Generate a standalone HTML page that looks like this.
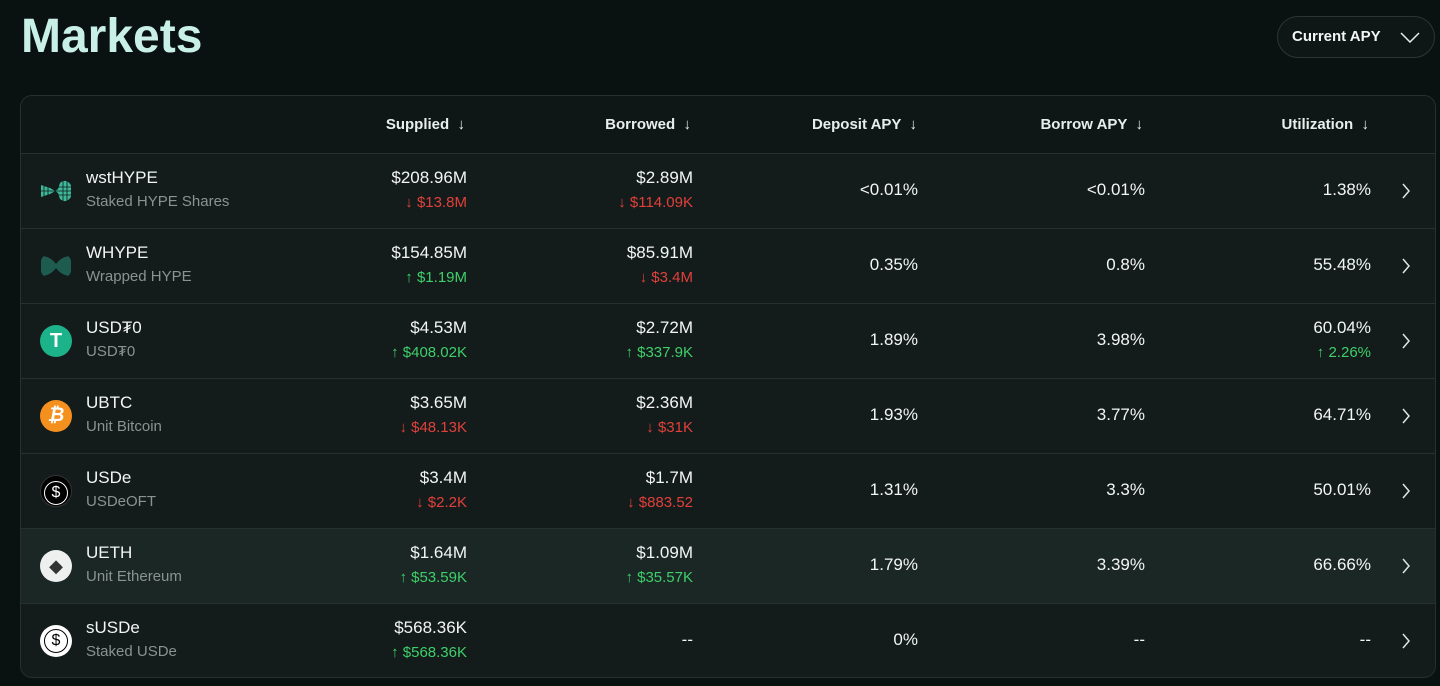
<!DOCTYPE html>
<html><head><meta charset="utf-8"><style>
*{margin:0;padding:0;box-sizing:border-box}
body{width:1440px;height:686px;background:#0a1211;font-family:"Liberation Sans",sans-serif;color:#f2f5f4;position:relative;overflow:hidden}
.title{position:absolute;left:21px;top:9px;font-size:48px;font-weight:bold;color:#c9f0e6;letter-spacing:0px}
.btn{position:absolute;left:1277px;top:16px;width:158px;height:42px;border:1px solid #2a3533;border-radius:21px;background:#0e1716;font-size:15px;font-weight:bold;padding:11px 0 0 14px}
.btn svg{position:absolute;right:14px;top:15px}
.tbl{position:absolute;left:20px;top:95px;width:1416px;height:583px;border:1px solid #26302e;border-radius:12px;background:#111a19;overflow:hidden}
.hdr{position:absolute;left:0;top:0;width:100%;height:58px;border-bottom:1px solid #26302e;background:#0f1716}
.h{position:absolute;top:20px;font-size:15px;font-weight:bold;color:#e8eeec;text-align:right;white-space:nowrap}
.row{position:absolute;left:0;width:100%;height:75px;border-bottom:1px solid #26302e;background:#141c1b}
.row.hl{background:#1a2724}
.ic{position:absolute;left:19px;top:21px;width:32px;height:32px;border-radius:50%}
.nm{position:absolute;left:65px;top:14px;font-size:17px}
.sb{position:absolute;left:65px;top:39px;font-size:15px;color:#8a9391}
.v{position:absolute;top:14px;font-size:17px;text-align:right;white-space:nowrap}
.d{position:absolute;top:40px;font-size:15px;text-align:right;white-space:nowrap}
.c{position:absolute;top:26px;font-size:17px;text-align:right;white-space:nowrap}
.red{color:#e0403a}.grn{color:#3ecf6a}
.chev{position:absolute;left:1380px;top:29px}
</style></head><body>
<div class="title">Markets</div>
<div class="btn">Current APY<svg width="20" height="11" viewBox="0 0 20 11"><path d="M1 1 L10 10 L19 1" stroke="#e8eeec" stroke-width="1.5" fill="none"/></svg></div>
<div class="tbl">
<div class="hdr">
<div class="h" style="right:970px">Supplied &nbsp;↓</div>
<div class="h" style="right:744px">Borrowed &nbsp;↓</div>
<div class="h" style="right:518px">Deposit APY &nbsp;↓</div>
<div class="h" style="right:292px">Borrow APY &nbsp;↓</div>
<div class="h" style="right:66px">Utilization &nbsp;↓</div>
</div>

<div class="row" style="top:58px">
<svg class="ic" viewBox="0 0 32 32"><path d="M1 10 L1 22 L10 19 Q14 17 18 14 L20 8 Q26 3 31 10 L31 22 Q26 29 20 24 L18 18 Q14 15 10 13 Z" fill="#3fb79a"/><path d="M4 10V22M8 11V21M23 6V26M27 6V26M1 16H31M18 12H31M18 20H31" stroke="#0d1a17" stroke-width="0.8"/></svg>
<div class="nm">wstHYPE</div><div class="sb">Staked HYPE Shares</div>
<div class="v" style="right:968px">$208.96M</div><div class="d red" style="right:968px">↓ $13.8M</div>
<div class="v" style="right:742px">$2.89M</div><div class="d red" style="right:742px">↓ $114.09K</div>
<div class="c" style="right:517px">&lt;0.01%</div><div class="c" style="right:290px">&lt;0.01%</div><div class="c" style="right:64px">1.38%</div>
<svg class="chev" width="10" height="16"><path d="M2 1 L8 8 L2 15" stroke="#dfe5e3" stroke-width="1.5" fill="none"/></svg>
</div>

<div class="row" style="top:133px">
<svg class="ic" viewBox="0 0 32 32"><path d="M1 6 Q10 6 16 14 Q22 6 31 6 Q31 26 31 26 Q22 26 16 18 Q10 26 1 26 Z" fill="#1e5c50"/></svg>
<div class="nm">WHYPE</div><div class="sb">Wrapped HYPE</div>
<div class="v" style="right:968px">$154.85M</div><div class="d grn" style="right:968px">↑ $1.19M</div>
<div class="v" style="right:742px">$85.91M</div><div class="d red" style="right:742px">↓ $3.4M</div>
<div class="c" style="right:517px">0.35%</div><div class="c" style="right:290px">0.8%</div><div class="c" style="right:64px">55.48%</div>
<svg class="chev" width="10" height="16"><path d="M2 1 L8 8 L2 15" stroke="#dfe5e3" stroke-width="1.5" fill="none"/></svg>
</div>

<div class="row" style="top:208px">
<div class="ic" style="background:#1cb28a;color:#fff;font-weight:bold;font-size:20px;text-align:center;line-height:32px">T</div>
<div class="nm">USD₮0</div><div class="sb">USD₮0</div>
<div class="v" style="right:968px">$4.53M</div><div class="d grn" style="right:968px">↑ $408.02K</div>
<div class="v" style="right:742px">$2.72M</div><div class="d grn" style="right:742px">↑ $337.9K</div>
<div class="c" style="right:517px">1.89%</div><div class="c" style="right:290px">3.98%</div>
<div class="v" style="right:64px">60.04%</div><div class="d grn" style="right:64px">↑ 2.26%</div>
<svg class="chev" width="10" height="16"><path d="M2 1 L8 8 L2 15" stroke="#dfe5e3" stroke-width="1.5" fill="none"/></svg>
</div>

<div class="row" style="top:283px">
<div class="ic" style="background:#f4901e;color:#fff;font-weight:bold;font-size:19px;text-align:center;line-height:32px;font-style:italic">₿</div>
<div class="nm">UBTC</div><div class="sb">Unit Bitcoin</div>
<div class="v" style="right:968px">$3.65M</div><div class="d red" style="right:968px">↓ $48.13K</div>
<div class="v" style="right:742px">$2.36M</div><div class="d red" style="right:742px">↓ $31K</div>
<div class="c" style="right:517px">1.93%</div><div class="c" style="right:290px">3.77%</div><div class="c" style="right:64px">64.71%</div>
<svg class="chev" width="10" height="16"><path d="M2 1 L8 8 L2 15" stroke="#dfe5e3" stroke-width="1.5" fill="none"/></svg>
</div>

<div class="row" style="top:358px">
<div class="ic" style="background:#000;border:1px solid #333;color:#fff;font-size:18px;text-align:center;line-height:30px"><span style="display:inline-block;width:24px;height:24px;border:1.5px solid #fff;border-radius:50%;line-height:21px;margin-top:3px;font-size:16px">$</span></div>
<div class="nm">USDe</div><div class="sb">USDeOFT</div>
<div class="v" style="right:968px">$3.4M</div><div class="d red" style="right:968px">↓ $2.2K</div>
<div class="v" style="right:742px">$1.7M</div><div class="d red" style="right:742px">↓ $883.52</div>
<div class="c" style="right:517px">1.31%</div><div class="c" style="right:290px">3.3%</div><div class="c" style="right:64px">50.01%</div>
<svg class="chev" width="10" height="16"><path d="M2 1 L8 8 L2 15" stroke="#dfe5e3" stroke-width="1.5" fill="none"/></svg>
</div>

<div class="row hl" style="top:433px">
<div class="ic" style="background:#eef0f0;color:#333;font-size:18px;text-align:center;line-height:32px">◆</div>
<div class="nm">UETH</div><div class="sb">Unit Ethereum</div>
<div class="v" style="right:968px">$1.64M</div><div class="d grn" style="right:968px">↑ $53.59K</div>
<div class="v" style="right:742px">$1.09M</div><div class="d grn" style="right:742px">↑ $35.57K</div>
<div class="c" style="right:517px">1.79%</div><div class="c" style="right:290px">3.39%</div><div class="c" style="right:64px">66.66%</div>
<svg class="chev" width="10" height="16"><path d="M2 1 L8 8 L2 15" stroke="#dfe5e3" stroke-width="1.5" fill="none"/></svg>
</div>

<div class="row" style="top:508px;border-bottom:none">
<div class="ic" style="background:#fff;color:#000;text-align:center"><span style="display:inline-block;width:24px;height:24px;border:1.5px solid #000;border-radius:50%;line-height:21px;margin-top:4px;font-size:16px">$</span></div>
<div class="nm">sUSDe</div><div class="sb">Staked USDe</div>
<div class="v" style="right:968px">$568.36K</div><div class="d grn" style="right:968px">↑ $568.36K</div>
<div class="c" style="right:742px">--</div>
<div class="c" style="right:517px">0%</div><div class="c" style="right:290px">--</div><div class="c" style="right:64px">--</div>
<svg class="chev" width="10" height="16"><path d="M2 1 L8 8 L2 15" stroke="#dfe5e3" stroke-width="1.5" fill="none"/></svg>
</div>
</div>
</body></html>
